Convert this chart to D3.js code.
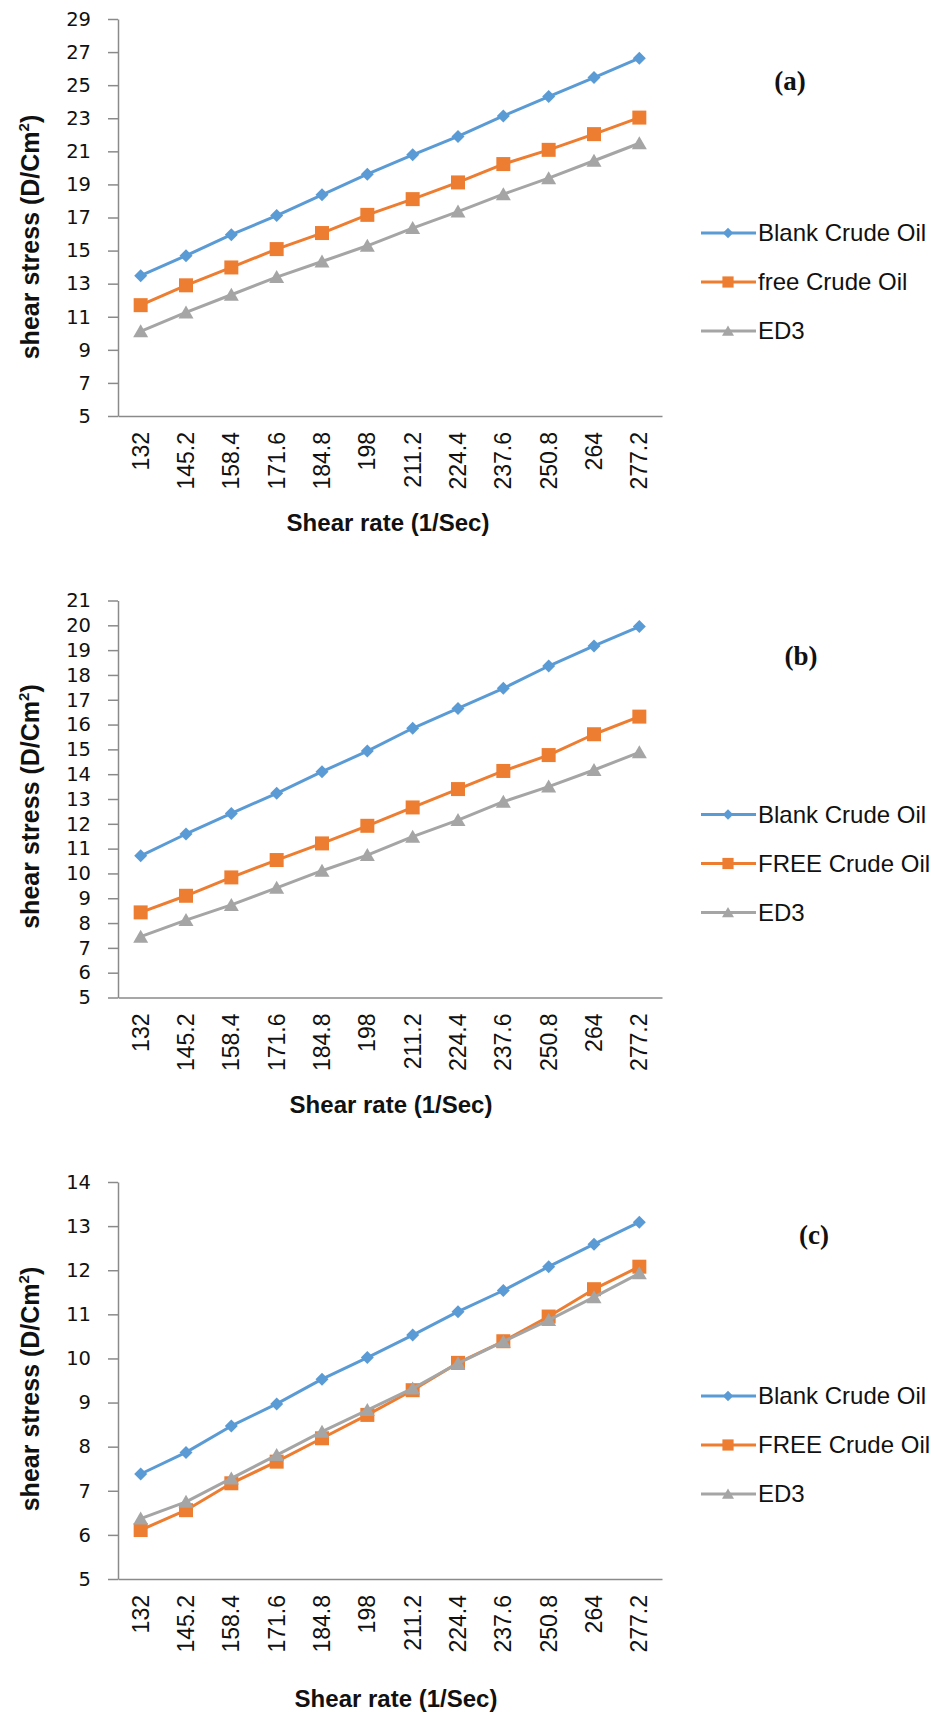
<!DOCTYPE html>
<html>
<head>
<meta charset="utf-8">
<script src="https://cdn.jsdelivr.net/npm/d3@7"></script>
<style>
  body { margin: 0; background: #fff; }
</style>
</head>
<body>
<div id="chart"></div>
<script>
// categories (x axis)
const shearRate = ['132', '145.2', '158.4', '171.6', '184.8', '198', '211.2', '224.4', '237.6', '250.8', '264', '277.2'];

// panel (a)
const blankA = [13.48, 14.69, 15.96, 17.12, 18.37, 19.62, 20.79, 21.9, 23.14, 24.31, 25.46, 26.63];
const freeA = [11.7, 12.9, 13.98, 15.09, 16.06, 17.16, 18.11, 19.12, 20.23, 21.09, 22.04, 23.04];
const ed3A = [10.12, 11.26, 12.33, 13.4, 14.34, 15.29, 16.36, 17.36, 18.41, 19.38, 20.43, 21.49];
const yTicksA = [5, 7, 9, 11, 13, 15, 17, 19, 21, 23, 25, 27, 29];

// panel (b)
const blankB = [10.71, 11.59, 12.42, 13.23, 14.1, 14.93, 15.85, 16.65, 17.46, 18.36, 19.17, 19.95];
const freeB = [8.43, 9.1, 9.84, 10.54, 11.21, 11.92, 12.66, 13.4, 14.13, 14.77, 15.61, 16.32];
const ed3B = [7.45, 8.12, 8.73, 9.42, 10.11, 10.74, 11.48, 12.15, 12.89, 13.5, 14.17, 14.88];
const yTicksB = [5, 6, 7, 8, 9, 10, 11, 12, 13, 14, 15, 16, 17, 18, 19, 20, 21];

// panel (c)
const blankC = [7.38, 7.87, 8.47, 8.97, 9.53, 10.02, 10.53, 11.06, 11.54, 12.08, 12.59, 13.09];
const freeC = [6.11, 6.56, 7.17, 7.66, 8.19, 8.72, 9.28, 9.9, 10.39, 10.95, 11.57, 12.08];
const ed3C = [6.37, 6.75, 7.28, 7.81, 8.34, 8.83, 9.32, 9.89, 10.38, 10.87, 11.39, 11.93];
const yTicksC = [5, 6, 7, 8, 9, 10, 11, 12, 13, 14];

const namesA = ['Blank Crude Oil', 'free Crude Oil', 'ED3'];
const namesBC = ['Blank Crude Oil', 'FREE Crude Oil', 'ED3'];
const panelLabels = ['(a)', '(b)', '(c)'];

let width = 931;
let height = 1718;
let left = 118;
let right = 662;
let plotH = 397;

let colors = ['#5B9BD5', '#ED7D31', '#A5A5A5'];
let axisColor = '#8a8a8a';

// marker shapes: diamond, square, triangle
let markers = [
  'M0,-6.5L6.5,0L0,6.5L-6.5,0Z',
  'M-7,-7H7V7H-7Z',
  'M0,-7L7.5,6L-7.5,6Z',
];

let panels = [
  { top: 19, series: [blankA, freeA, ed3A], names: namesA, yTicks: yTicksA, label: panelLabels[0], labelX: 790, labelDy: 71, titleMid: 218, xTitleX: 388, xTitleDy: 115 },
  { top: 600.5, series: [blankB, freeB, ed3B], names: namesBC, yTicks: yTicksB, label: panelLabels[1], labelX: 801, labelDy: 64, titleMid: 206, xTitleX: 391, xTitleDy: 115 },
  { top: 1182, series: [blankC, freeC, ed3C], names: namesBC, yTicks: yTicksC, label: panelLabels[2], labelX: 814, labelDy: 62, titleMid: 207, xTitleX: 396, xTitleDy: 128 },
];

let svg = d3.select('#chart').append('svg').attr('width', width).attr('height', height)
  .style('background', '#fff');

let x = d3.scaleBand().domain(shearRate).range([left, right]);

panels.forEach((p) => {
  let bottom = p.top + plotH;
  let y = d3.scaleLinear()
    .domain([p.yTicks[0], p.yTicks[p.yTicks.length - 1]])
    .range([bottom, p.top]);

  let g = svg.append('g');

  //y axis
  let yAxis = g.append('g')
    .attr('transform', 'translate(' + left + ',0)')
    .call(d3.axisLeft(y).tickValues(p.yTicks).tickSize(10).tickSizeOuter(0).tickPadding(17));
  yAxis.selectAll('path, line').attr('stroke', axisColor).attr('stroke-width', 1.5);
  yAxis.selectAll('text')
    .attr('fill', '#111')
    .style('font-family', '"DejaVu Sans", sans-serif')
    .style('font-size', '19.5px');

  //x axis
  let xAxis = g.append('g')
    .attr('transform', 'translate(0,' + bottom + ')')
    .call(d3.axisBottom(x).tickSize(0).tickSizeOuter(0));
  xAxis.select('path').attr('stroke', axisColor).attr('stroke-width', 1.5);
  xAxis.selectAll('text')
    .attr('transform', 'rotate(-90)')
    .attr('text-anchor', 'end')
    .attr('x', -16)
    .attr('y', 0)
    .attr('dy', '0.35em')
    .attr('fill', '#111')
    .style('font-family', '"Liberation Sans", Arial, sans-serif')
    .style('font-size', '23px');

  //series
  let line = d3.line()
    .x((d, i) => x(shearRate[i]) + x.bandwidth() / 2)
    .y((d) => y(d));

  p.series.forEach((s, k) => {
    g.append('path')
      .datum(s)
      .attr('fill', 'none')
      .attr('stroke', colors[k])
      .attr('stroke-width', 3)
      .attr('stroke-linejoin', 'round')
      .attr('d', line);

    g.selectAll(null)
      .data(s)
      .enter()
      .append('path')
      .attr('d', markers[k])
      .attr('fill', colors[k])
      .attr('transform', (d, i) => 'translate(' + (x(shearRate[i]) + x.bandwidth() / 2) + ',' + y(d) + ')');
  });

  //legend
  p.names.forEach((name, k) => {
    let ly = p.top + 214 + k * 49;
    g.append('line')
      .attr('x1', 701).attr('x2', 756)
      .attr('y1', ly).attr('y2', ly)
      .attr('stroke', colors[k])
      .attr('stroke-width', 3);
    g.append('path')
      .attr('d', markers[k])
      .attr('fill', colors[k])
      .attr('transform', 'translate(728,' + ly + ') scale(0.8)');
    g.append('text')
      .text(name)
      .attr('x', 758)
      .attr('y', ly)
      .attr('dy', '0.35em')
      .attr('fill', '#111')
      .style('font-family', '"Liberation Sans", Arial, sans-serif')
      .style('font-size', '24px');
  });

  //panel label
  g.append('text')
    .text(p.label)
    .attr('x', p.labelX)
    .attr('y', p.top + p.labelDy)
    .attr('text-anchor', 'middle')
    .attr('fill', '#111')
    .style('font-family', '"Liberation Serif", "Times New Roman", serif')
    .style('font-weight', 'bold')
    .style('font-size', '27px');

  //y axis title
  let yt = g.append('text')
    .attr('transform', 'translate(39,' + (p.top + p.titleMid) + ') rotate(-90)')
    .attr('text-anchor', 'middle')
    .attr('fill', '#111')
    .style('font-family', '"Liberation Sans", Arial, sans-serif')
    .style('font-weight', 'bold')
    .style('font-size', '25px');
  yt.append('tspan').text('shear stress (D/Cm');
  yt.append('tspan').text('2').attr('dy', -10).style('font-size', '15px');
  yt.append('tspan').text(')').attr('dy', 10);

  //x axis title
  g.append('text')
    .text('Shear rate (1/Sec)')
    .attr('x', p.xTitleX)
    .attr('y', bottom + p.xTitleDy)
    .attr('text-anchor', 'middle')
    .attr('fill', '#111')
    .style('font-family', '"Liberation Sans", Arial, sans-serif')
    .style('font-weight', 'bold')
    .style('font-size', '24px');
});
</script>
</body>
</html>
